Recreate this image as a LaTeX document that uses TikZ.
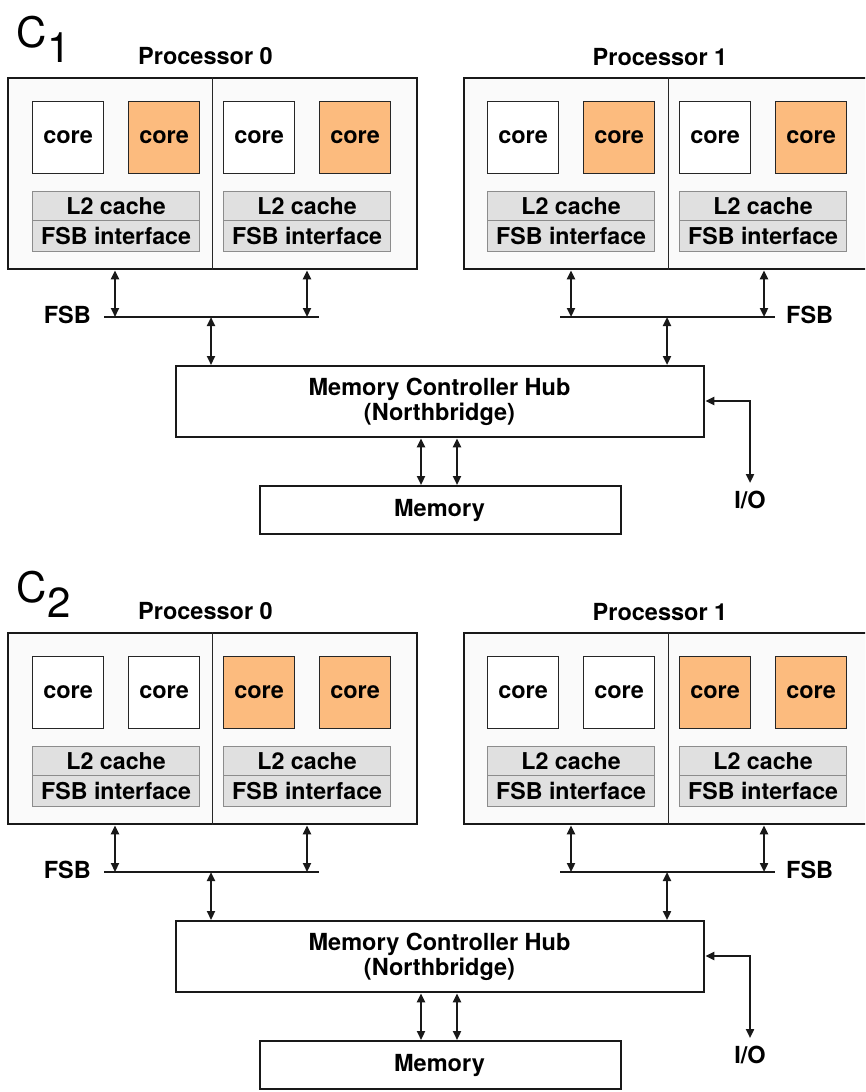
\documentclass[tikz,border=0pt]{standalone}
\usepackage{fontspec}
\setmainfont{TeX Gyre Heros}
\usetikzlibrary{arrows.meta}
\definecolor{coreorange}{RGB}{252,187,126}
\definecolor{l2gray}{RGB}{224,224,224}
\definecolor{procfill}{RGB}{250,250,250}
\begin{document}
\begin{tikzpicture}[x=1pt,y=-1pt,
  bf/.style={font=\bfseries\fontsize{23.5}{28}\selectfont, inner sep=0pt},
  procbox/.style={draw=black!90, line width=2.4pt, fill=procfill, anchor=north west, inner sep=0pt},
  divider/.style={draw=black!85, line width=1.2pt},
  corebox/.style={draw=black!85, line width=1.3pt, minimum width=71pt, minimum height=72pt,
     anchor=north west, inner sep=0pt, text height=12.3pt, text depth=0pt,
     font=\bfseries\fontsize{23.5}{28}\selectfont},
  l2box/.style={draw=black!45, fill=l2gray, line width=1.2pt, minimum width=167pt, minimum height=29pt,
     anchor=north west, inner sep=0pt, text height=16.6pt, text depth=0pt,
     font=\bfseries\fontsize{23.2}{26}\selectfont},
  fibox/.style={l2box, minimum height=31pt},
  plainbox/.style={draw=black!90, line width=2.4pt, fill=white, anchor=north west, inner sep=0pt},
  bus/.style={line width=2.5pt, draw=black!90},
  dar/.style={line width=2.2pt, draw=black!90,
     {Triangle[length=9pt,width=8pt]}-{Triangle[length=9pt,width=8pt]}},
  bigc/.style={font=\fontsize{42}{42}\selectfont, inner sep=0pt}
]
\useasboundingbox (0,0) rectangle (865,1092);
\clip (0,0) rectangle (865,1092);
\fill[white] (0,0) rectangle (865,1092);

\foreach \p/\dy in {1/0,2/555}{
\begin{scope}[yshift=-\dy pt]
  % panel label
  \node[bigc, anchor=base west] (P\p-C) at (16,47) {C};
  \node[bigc, anchor=base] (P\p-sub) at (59.5,62) {\p};
  % processor labels
  \node[bf, anchor=base] (P\p-lab0) at (205.5,64) {Processor 0};
  \node[bf, anchor=base] (P\p-lab1) at (660,65) {Processor 1};
  % processor boxes
  \node[procbox, minimum width=409pt, minimum height=191pt] (P\p-proc0) at (7,77) {};
  \node[procbox, minimum width=408pt, minimum height=191pt] (P\p-proc1) at (463,77) {};
  \draw[divider] (P\p-proc0.north) -- (P\p-proc0.south);
  \draw[divider] (P\p-proc1.north) -- (P\p-proc1.south);
  % cores
  \foreach \j/\x in {0/32,1/128,2/223,3/319,4/487,5/583,6/679,7/775}{
    \pgfmathtruncatemacro\isor{\p==1 ? mod(\j,2) : (mod(\j,4)>=2)}
    \ifnum\isor=1 \def\cfill{coreorange}\else\def\cfill{white}\fi
    \node[corebox, fill=\cfill] (P\p-core\j) at (\x,101) {core};
  }
  % caches and FSB interfaces
  \foreach \k/\x in {0/32,1/223,2/487,3/679}{
    \node[l2box] (P\p-l2\k) at (\x,191) {L2 cache};
    \node[fibox] (P\p-fi\k) at (\x,220) {FSB interface};
  }
  % front side buses
  \coordinate (P\p-b0w) at (104,317);
  \coordinate (P\p-b0e) at (319,317);
  \coordinate (P\p-b1w) at (560,317);
  \coordinate (P\p-b1e) at (775,317);
  \draw[bus] (P\p-b0w) -- (P\p-b0e);
  \draw[bus] (P\p-b1w) -- (P\p-b1e);
  \node[bf, anchor=base east] (P\p-fsbl0) at (91,323.5) {FSB};
  \node[bf, anchor=base west] (P\p-fsbl1) at (786,323.5) {FSB};
  % taps
  \coordinate (P\p-t0) at (115,317);
  \coordinate (P\p-t1) at (307,317);
  \coordinate (P\p-t2) at (211,317);
  \coordinate (P\p-t3) at (571,317);
  \coordinate (P\p-t4) at (764,317);
  \coordinate (P\p-t5) at (667,317);
  % memory controller hub
  \node[plainbox, minimum width=528pt, minimum height=71pt] (P\p-mch) at (175,365) {};
  \node[bf, anchor=base] (P\p-mcht1) at (439.5,395) {Memory Controller Hub};
  \node[bf, anchor=base] (P\p-mcht2) at (439.5,420) {(Northbridge)};
  % memory
  \node[plainbox, minimum width=361pt, minimum height=48pt] (P\p-mem) at (259,485) {};
  \node[bf, anchor=base] (P\p-memt) at (439.5,516) {Memory};
  % arrows processor - bus
  \draw[dar] (P\p-proc0.south -| P\p-t0) -- (P\p-t0);
  \draw[dar] (P\p-proc0.south -| P\p-t1) -- (P\p-t1);
  \draw[dar] (P\p-proc1.south -| P\p-t3) -- (P\p-t3);
  \draw[dar] (P\p-proc1.south -| P\p-t4) -- (P\p-t4);
  % arrows bus - hub
  \draw[dar] (P\p-t2) -- (P\p-t2 |- P\p-mch.north);
  \draw[dar] (P\p-t5) -- (P\p-t5 |- P\p-mch.north);
  % arrows hub - memory
  \coordinate (P\p-m0) at (421,460);
  \coordinate (P\p-m1) at (457,460);
  \draw[dar] (P\p-mch.south -| P\p-m0) -- (P\p-mem.north -| P\p-m0);
  \draw[dar] (P\p-mch.south -| P\p-m1) -- (P\p-mem.north -| P\p-m1);
  % I/O
  \coordinate (P\p-iok) at (750,401);
  \coordinate (P\p-io) at (750,483);
  \draw[dar] (P\p-mch.east |- P\p-iok) -- (P\p-iok) -- (P\p-io);
  \node[bf, anchor=base] (P\p-iot) at (750,508) {I/O};
\end{scope}
}
\end{tikzpicture}
\end{document}
